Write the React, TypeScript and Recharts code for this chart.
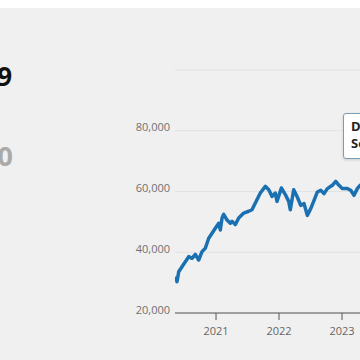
import React from "react"
import { LineChart, Line, XAxis, YAxis, CartesianGrid } from "recharts"

// decimal year of each reading, and the index value at that time
const years = [
  2020.354, 2020.381, 2020.408, 2020.46, 2020.513, 2020.567, 2020.619, 2020.671, 2020.725, 2020.778,
  2020.83, 2020.884, 2020.937, 2020.989, 2021.043, 2021.068, 2021.095, 2021.122, 2021.175, 2021.227,
  2021.254, 2021.306, 2021.36, 2021.44, 2021.519, 2021.571, 2021.624, 2021.703, 2021.783, 2021.837,
  2021.889, 2021.941, 2021.968, 2022.037, 2022.1, 2022.154, 2022.179, 2022.233, 2022.29, 2022.344,
  2022.397, 2022.449, 2022.503, 2022.556, 2022.608, 2022.662, 2022.714, 2022.767, 2022.846, 2022.9,
  2022.952, 2023.005, 2023.084, 2023.138, 2023.19, 2023.243, 2023.286, 2023.317,
]
const values = [
  31950, 30300, 33600, 35250, 36900, 38550, 38000, 39300, 37450, 40200,
  41300, 44600, 46250, 47900, 49550, 47350, 51200, 52500, 50600, 49550,
  50200, 49100, 51300, 52900, 53500, 54000, 56200, 59500, 61700, 60600,
  58400, 59500, 56750, 61150, 59000, 56750, 54000, 60600, 58200, 55450,
  56000, 52150, 54350, 57100, 59850, 60400, 59300, 60950, 62050, 63350,
  62050, 60950, 60950, 60400, 58750, 60950, 62050, 61500,
]
const yearTicks = [2021, 2022, 2023]
const valueTicks = [20000, 40000, 60000, 80000, 100000]

const data = years.map((t, i) => ({ t, value: values[i] }))

function YTick({ x, y, payload }: any) {
  if (payload.value === 100000) return null
  return (
    <text x={x} y={y - 4} textAnchor="end" dominantBaseline="central" fill="#707070" fontSize={11} fontFamily="'Open Sans', sans-serif">
      {Number(payload.value).toLocaleString("en-US")}
    </text>
  )
}

export default function App() {
  return (
    <div style={{ position: "fixed", left: 0, top: 0, width: 360, height: 360, overflow: "hidden", background: "#fff" }}>
      <div style={{ position: "absolute", left: 0, top: 8, width: 360, height: 352, background: "#f0f0f0" }} />
      <div
        style={{
          position: "absolute", right: 348, top: 63, fontSize: 26, lineHeight: "26px", fontWeight: 700,
          fontFamily: "'Open Sans', sans-serif", color: "#111", whiteSpace: "nowrap",
        }}
      >
        9
      </div>
      <div
        style={{
          position: "absolute", right: 347, top: 142, fontSize: 27, lineHeight: "27px", fontWeight: 700,
          fontFamily: "'Open Sans', sans-serif", color: "#aaa", whiteSpace: "nowrap",
        }}
      >
        0
      </div>
      <div style={{ position: "absolute", left: 115, top: 65 }}>
        <LineChart width={247} height={288} data={data} margin={{ top: 5, right: 0, left: 0, bottom: 0 }}>
          <CartesianGrid vertical={false} stroke="#e2e2e2" />
          <XAxis
            dataKey="t"
            type="number"
            domain={[2020.349, 2023.317]}
            ticks={yearTicks}
            allowDataOverflow
            height={40}
            tickSize={7}
            tickMargin={7}
            stroke="#555"
            tick={{ fill: "#666", fontSize: 11, fontFamily: "'Open Sans', sans-serif" }}
            tickFormatter={(v) => String(v)}
          />
          <YAxis
            domain={[20000, 100000]}
            ticks={valueTicks}
            width={60}
            axisLine={false}
            tickLine={false}
            tickSize={0}
            tickMargin={5}
            tick={<YTick />}
          />
          <Line
            type="linear"
            dataKey="value"
            stroke="#1a70b0"
            strokeWidth={3.5}
            strokeLinejoin="round"
            dot={false}
            isAnimationActive={false}
          />
        </LineChart>
      </div>
      <div
        style={{
          position: "absolute", left: 343, top: 113, width: 80, height: 46, background: "#fff",
          border: "1px solid #7a9db8", borderRadius: 3, boxShadow: "0 1px 3px rgba(0,0,0,0.15)",
          padding: "4px 0 0 7px", boxSizing: "border-box", fontFamily: "'Open Sans', sans-serif",
          fontSize: 13, lineHeight: "17px", fontWeight: 700, color: "#222", whiteSpace: "nowrap",
        }}
      >
        <div>Date: Dec 2022</div>
        <div>Series: 63,350</div>
      </div>
    </div>
  )
}
